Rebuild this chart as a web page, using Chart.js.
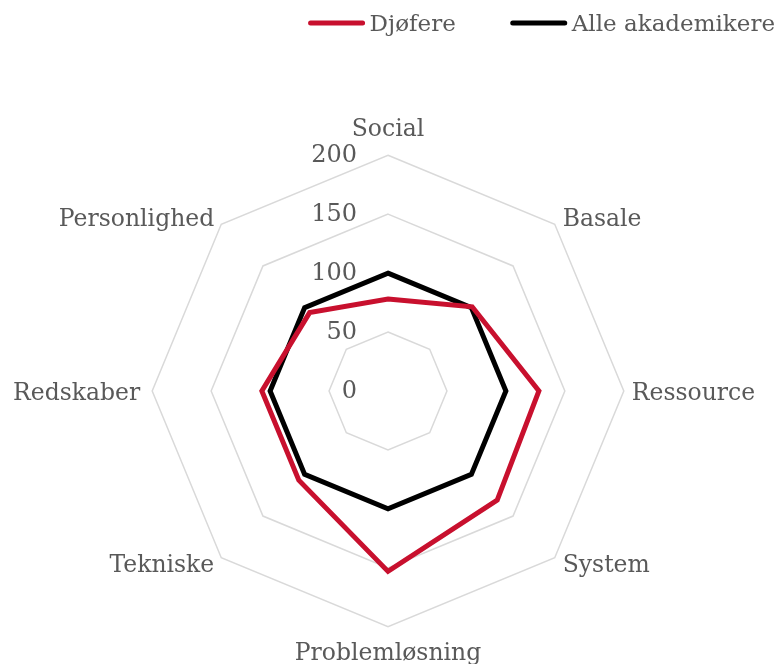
<!DOCTYPE html>
<html>
<head>
<meta charset="utf-8">
<script src="https://cdn.jsdelivr.net/npm/chart.js@4.4.1/dist/chart.umd.min.js"></script>
<style>
  html, body { margin: 0; padding: 0; background: #fff; }
  #wrap { width: 779px; height: 664px; }
</style>
</head>
<body>
<div id="wrap"><canvas id="myChart"></canvas></div>
<script>
var kategorier = ['Social', 'Basale', 'Ressource', 'System', 'Problemløsning', 'Tekniske', 'Redskaber', 'Personlighed'];
var djoefere = [78, 101, 128, 131, 153, 107, 107, 94];
var alleAkademikere = [100, 100, 100, 100, 100, 100, 100, 100];
var tickVaerdier = [0, 50, 100, 150, 200];

var tekstFarve = '#595959';
var skrift = "'DejaVu Serif', serif";

// tick labels sit to the left of the vertical axis, right aligned
var tickPlugin = {
    id: 'venstreTicks',
    afterDatasetsDraw: function (chart) {
        var scale = chart.scales.r;
        var ctx = chart.ctx;
        ctx.save();
        ctx.font = '24px ' + skrift;
        ctx.fillStyle = tekstFarve;
        ctx.textAlign = 'right';
        ctx.textBaseline = 'middle';
        tickVaerdier.forEach(function (v) {
            var d = scale.getDistanceFromCenterForValue(v);
            ctx.fillText(String(v), scale.xCenter - 31, scale.yCenter - d + 1);
        });
        ctx.restore();
    }
};

// category labels placed like Excel does: close to the outer corners
var punktPlugin = {
    id: 'punktLabels',
    afterDatasetsDraw: function (chart) {
        var scale = chart.scales.r;
        var ctx = chart.ctx;
        var yd = scale.getDistanceFromCenterForValue(scale.max);
        ctx.save();
        ctx.font = '23.5px ' + skrift;
        ctx.fillStyle = tekstFarve;
        ctx.textBaseline = 'alphabetic';
        kategorier.forEach(function (lab, i) {
            var p = scale.getPointPosition(i, yd);
            var sx = Math.round(p.x - scale.xCenter);
            var sy = Math.round(p.y - scale.yCenter);
            var x = p.x, y = p.y;
            if (sx === 0) {
                ctx.textAlign = 'center';
                y += sy < 0 ? -19 : 33;
            } else {
                ctx.textAlign = sx > 0 ? 'left' : 'right';
                if (sx > 0) x += 8;
                else x -= sy === 0 ? 12 : 7;
                y += sy === 0 ? 9 : (sy < 0 ? 2 : 14);
            }
            ctx.fillText(lab, x, y);
        });
        ctx.restore();
    }
};

// legend at the top right: short line + text, wide gap between items
var legendPlugin = {
    id: 'linjeLegend',
    afterDraw: function (chart) {
        var ctx = chart.ctx;
        var linjeB = 56, tekstGap = 5, itemGap = 55, y = 23;
        ctx.save();
        ctx.font = '23px ' + skrift;
        ctx.textBaseline = 'middle';
        var x = chart.width - 4;
        var items = chart.data.datasets.slice().reverse();
        items.forEach(function (ds) {
            var w = ctx.measureText(ds.label).width;
            x -= w;
            ctx.fillStyle = tekstFarve;
            ctx.fillText(ds.label, x, y + 2);
            x -= tekstGap;
            ctx.strokeStyle = ds.borderColor;
            ctx.lineWidth = 5;
            ctx.lineCap = 'round';
            ctx.beginPath();
            ctx.moveTo(x - linjeB + 2, y);
            ctx.lineTo(x - 2, y);
            ctx.stroke();
            x -= linjeB + itemGap;
        });
        ctx.restore();
    }
};

var ctx = document.getElementById('myChart');
var myChart = new Chart(ctx, {
    type: 'radar',
    data: {
        labels: kategorier,
        datasets: [{
            label: 'Djøfere',
            data: djoefere,
            borderColor: '#C8102E',
            backgroundColor: '#C8102E',
            borderWidth: 5,
            pointRadius: 0,
            fill: false,
            borderJoinStyle: 'miter'
        }, {
            label: 'Alle akademikere',
            data: alleAkademikere,
            borderColor: '#000000',
            backgroundColor: '#000000',
            borderWidth: 5,
            pointRadius: 0,
            fill: false,
            borderJoinStyle: 'miter'
        }]
    },
    options: {
        responsive: true,
        maintainAspectRatio: false,
        animation: false,
        layout: { padding: { top: 120, bottom: 0, left: 0, right: 5 } },
        plugins: {
            legend: { display: false },
            tooltip: { enabled: false }
        },
        scales: {
            r: {
                min: 0,
                max: 200,
                ticks: { stepSize: 50, display: false },
                grid: { color: '#d9d9d9', lineWidth: 1.5 },
                angleLines: { display: false },
                pointLabels: {
                    // kept for the layout fit, drawn by punktPlugin
                    color: 'rgba(0,0,0,0)',
                    padding: 8,
                    font: { family: skrift, size: 23.5 }
                }
            }
        }
    },
    plugins: [tickPlugin, punktPlugin, legendPlugin]
});
</script>
</body>
</html>
